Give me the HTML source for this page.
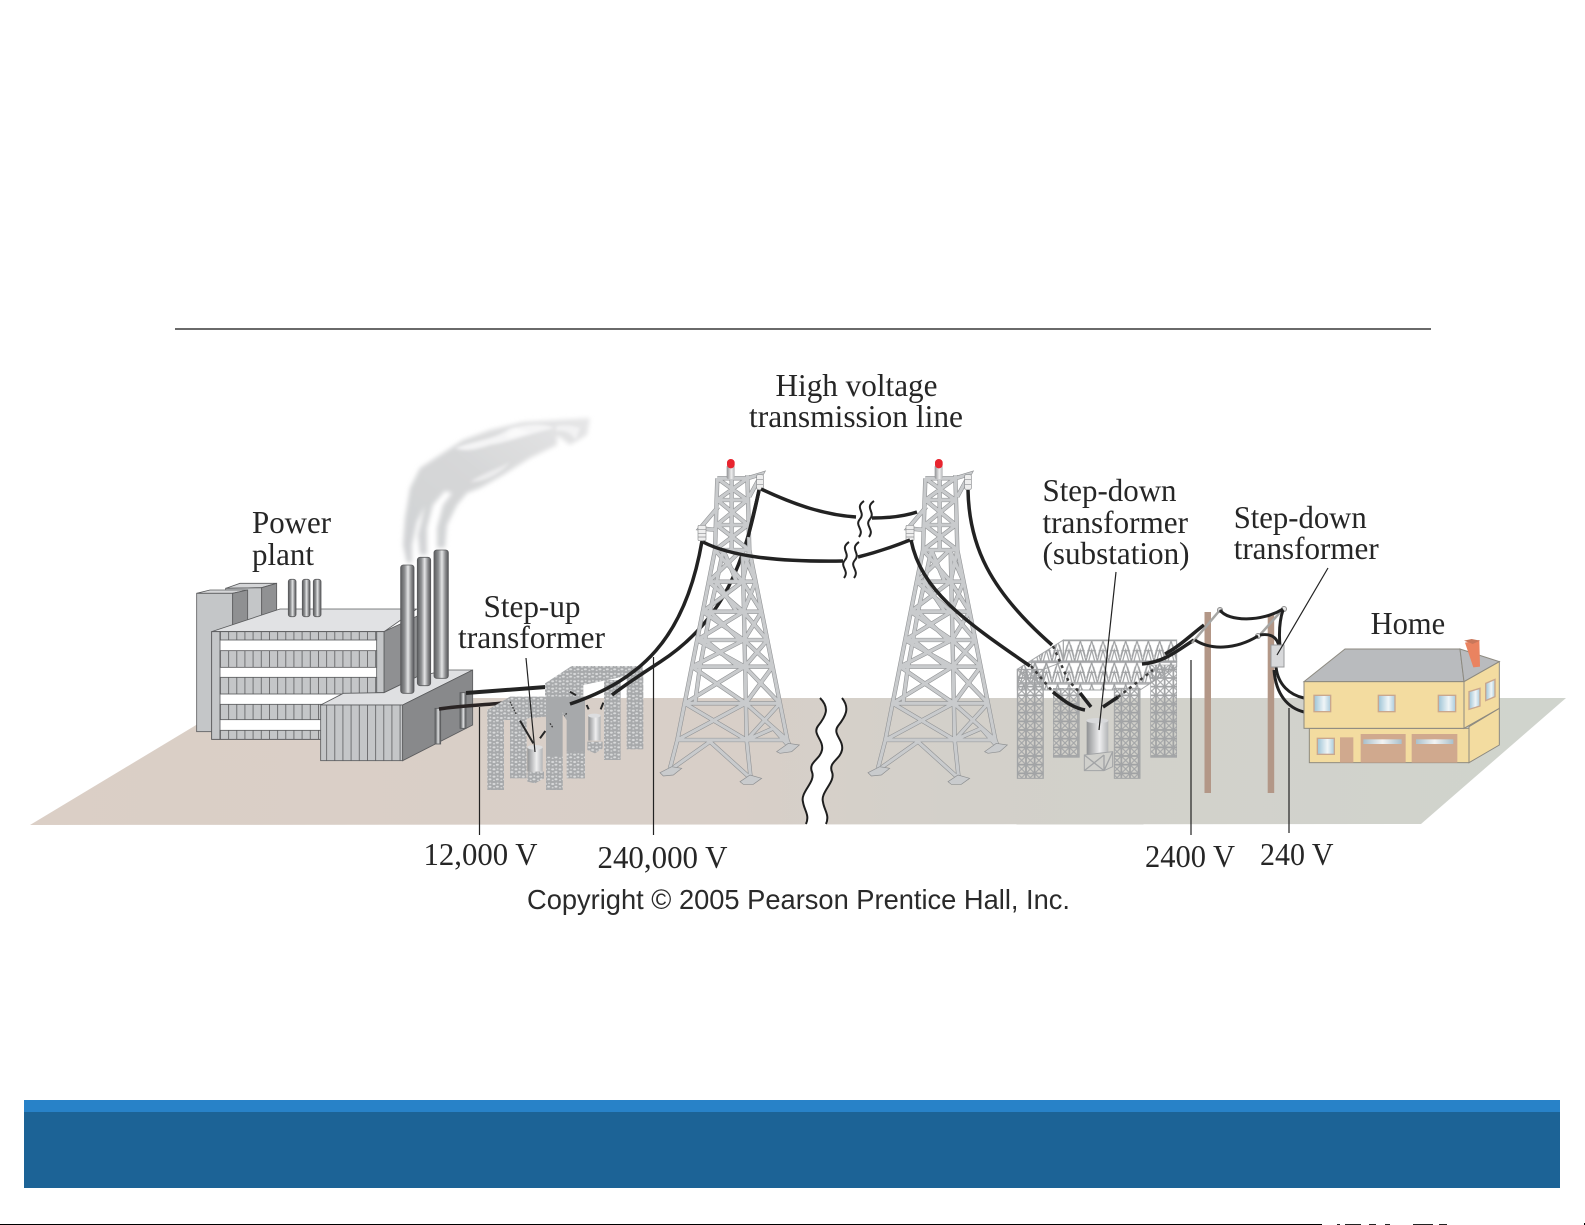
<!DOCTYPE html>
<html lang="en">
<head>
<meta charset="utf-8">
<title>Power transmission diagram</title>
<style>
html,body{margin:0;padding:0;background:#fff;width:1585px;height:1225px;overflow:hidden}
svg{display:block}
.t{font-family:"Liberation Serif",serif;font-size:32px;fill:#262626}
.c{font-family:"Liberation Sans",sans-serif;font-size:28px;fill:#2a2a2a}
</style>
</head>
<body>
<svg xmlns="http://www.w3.org/2000/svg" width="1585" height="1225" viewBox="0 0 1585 1225">
<defs>
<linearGradient id="gnd" x1="0" x2="1" y1="0" y2="0">
<stop offset="0" stop-color="#dbcfc6"/><stop offset=".45" stop-color="#d8cfc8"/><stop offset=".6" stop-color="#d3d0ca"/><stop offset="1" stop-color="#d0d4cd"/>
</linearGradient>
<linearGradient id="pipe" x1="0" x2="1" y1="0" y2="0">
<stop offset="0" stop-color="#5c5d5f"/><stop offset=".3" stop-color="#8d8f91"/><stop offset=".55" stop-color="#e4e5e6"/><stop offset=".8" stop-color="#8a8b8d"/><stop offset="1" stop-color="#56575a"/>
</linearGradient>
<linearGradient id="cyl" x1="0" x2="1" y1="0" y2="0">
<stop offset="0" stop-color="#8f9193"/><stop offset=".6" stop-color="#eeeeef"/><stop offset="1" stop-color="#b2b4b6"/>
</linearGradient>
<linearGradient id="win" x1="0" x2="1" y1="0" y2="0">
<stop offset="0" stop-color="#9cc3d6"/><stop offset=".6" stop-color="#f0f5f7"/><stop offset="1" stop-color="#a9cbdc"/>
</linearGradient>
<linearGradient id="slit" x1="0" x2="1" y1="0" y2="0">
<stop offset="0" stop-color="#a9c0cc"/><stop offset=".5" stop-color="#f2f3f3"/><stop offset="1" stop-color="#a9c0cc"/>
</linearGradient>
<linearGradient id="smk" x1="0" x2="1" y1="1" y2="0">
<stop offset="0" stop-color="#d0d2d4"/><stop offset=".5" stop-color="#d6d7d8"/><stop offset="1" stop-color="#e6e6e7"/>
</linearGradient>
<filter id="bl" x="-20%" y="-20%" width="140%" height="140%"><feGaussianBlur stdDeviation="2.5"/></filter>
<filter id="bl2" x="-20%" y="-20%" width="140%" height="140%"><feGaussianBlur stdDeviation="1.5"/></filter>
<pattern id="strip" width="24.5" height="10" patternUnits="userSpaceOnUse" x="120">
<rect width="24.5" height="10" fill="#c4c6c8"/><rect width="2.5" height="10" fill="#5f6062"/>
</pattern>
<pattern id="lat" width="26" height="26" patternUnits="userSpaceOnUse" x="52" y="148">
<rect width="26" height="26" fill="none" stroke="#9ea0a2" stroke-width="5"/>
<path d="M0 0L26 26M26 0L0 26" stroke="#a4a6a8" stroke-width="3.5"/>
</pattern>
<pattern id="truss" width="34" height="65" patternUnits="userSpaceOnUse" x="190" y="60">
<path d="M0 2H34M0 63H34M0 63L17 2L34 63M8 63L17 30L26 63M4 32H30M2 50L12 15M32 50L22 15" stroke="#9ea0a2" stroke-width="3.5" fill="none"/>
</pattern>
<pattern id="sm" width="22" height="22" patternUnits="userSpaceOnUse">
<rect width="22" height="22" fill="#a7a9ab"/>
<ellipse cx="6" cy="6" rx="4.500" ry="3" fill="#dadbdc"/><ellipse cx="16" cy="14" rx="4.500" ry="3" fill="#dadbdc"/><ellipse cx="6" cy="17" rx="3" ry="2.500" fill="#d4d5d6"/><ellipse cx="17" cy="4" rx="3" ry="2.500" fill="#d4d5d6"/>
</pattern>
<path id="twp" fill="none" d="M165,300L52,870L30,955M268,300L382,870L390,892M248,300L260,870L272,985
M150,395H285M128,485H305M111,570H322M96,650H338M74,760H360M52,870H382
M165,300L248,395M245,300L146,395M146,395L250,485M248,395L128,485M128,485L252,570M250,485L111,570M111,570L254,650M252,570L96,650M96,650L257,760M254,650L74,760M74,760L260,870M257,760L52,870
M245,300L287,395M268,300L248,395M248,395L305,485M287,395L250,485M250,485L322,570M305,485L252,570M252,570L338,650M322,570L254,650M254,650L360,760M338,650L257,760M257,760L382,870M360,760L260,870
M150,875L30,960M150,875L272,985M260,870L340,835L390,892
M172,85L165,300M262,75L268,300M172,85H262M172,150H262M170,225H264M165,300H268
M172,85L262,150M262,85L172,150M172,150L264,225M262,150L170,225M170,225L268,300M264,225L165,300
M215,85V300M175,170L120,235L170,240M262,85L305,72L268,140
M190,300L170,395L150,485L135,570L120,650L105,760M190,300L230,395M170,395L230,485M150,485L240,570M135,570L235,650"/>
<g id="tower">
<use href="#twp" stroke="#909294" stroke-width="13"/>
<use href="#twp" stroke="#c9cbcd" stroke-width="9.500"/>
<polygon points="0,968 35,950 65,955 40,975 10,978" fill="#c9cbcd" stroke="#8d8f91" stroke-width="2"/>
<polygon points="240,995 270,975 305,985 280,1003 250,1003" fill="#c9cbcd" stroke="#8d8f91" stroke-width="2"/>
<polygon points="350,905 385,880 418,885 395,905 360,910" fill="#c9cbcd" stroke="#8d8f91" stroke-width="2"/>
<rect x="200" y="45" width="24" height="42" rx="6" fill="url(#cyl)"/>
<rect x="201" y="27" width="23" height="28" rx="11" fill="#e8252f"/>
<rect x="114" y="226" width="24" height="46" rx="4" fill="#eeeeee" stroke="#8d8f91" stroke-width="2"/>
<path d="M114,238H138M114,250H138M114,261H138" stroke="#8d8f91" stroke-width="2"/>
<rect x="290" y="74" width="20" height="44" rx="4" fill="#eeeeee" stroke="#8d8f91" stroke-width="2"/>
<path d="M290,88H310M290,103H310" stroke="#8d8f91" stroke-width="2"/>
</g>
<g id="wavy" fill="none" stroke="#222" stroke-width="2">
<path d="M10,0C0,7 12,11 6,18C0,25 11,28 5,36"/>
<path d="M20,0C10,7 22,11 16,18C10,25 21,28 15,36"/>
</g>
</defs>

<rect width="1585" height="1225" fill="#fff"/>
<rect x="175" y="328" width="1256" height="2" fill="#6a6a6a"/>

<!-- ground -->
<polygon points="30,825 241,698 1566,698 1421,824" fill="url(#gnd)"/>
<path d="M820,698C830,708 826,716 818,726C812,734 824,740 822,750C820,760 808,762 812,772C816,782 800,792 803,802C804,810 810,815 806,825H826C830,815 824,810 823,802C820,792 836,782 832,772C828,762 840,760 842,750C844,740 832,734 838,726C846,716 850,708 842,698Z" fill="#fff"/>
<path d="M820,698C830,708 826,716 818,726C812,734 824,740 822,750C820,760 808,762 812,772C816,782 800,792 803,802C804,810 810,815 806,824" fill="none" stroke="#1e1e1e" stroke-width="2"/>
<path d="M842,698C850,708 846,716 838,726C832,734 844,740 842,750C840,760 828,762 832,772C836,782 820,792 823,802C824,810 830,815 826,824" fill="none" stroke="#1e1e1e" stroke-width="2"/>

<!-- smoke -->
<g filter="url(#bl)">
<polygon points="407,563 403,545 405,518 410,488 420,468 440,455 463,440 490,430 523,422 590,418 587,435 570,445 557,435 557,445 530,458 503,475 480,488 467,493 457,505 447,525 445,548 437,548 437,528 443,505 452,493 445,491 433,505 427,528 427,555 420,555 418,535 425,505 430,495 417,522 412,545 412,563" fill="url(#smk)"/>
</g>
<g filter="url(#bl2)">
<path d="M455,448C475,440 495,440 510,428C525,425 540,422 555,428C535,432 510,442 490,445C475,450 465,452 455,448Z" fill="#f4f4f5"/>
<path d="M556,426C565,425 572,425 580,428L576,440C570,432 565,430 556,431Z" fill="#f2f2f3"/>
<path d="M530,432C520,435 510,440 505,436L515,428Z" fill="#fafafa"/>
<path d="M470,482C485,472 500,468 510,462C500,475 485,482 470,482Z" fill="#ececed"/>
</g>

<!-- power plant -->
<g transform="translate(180,540) scale(.33333)" stroke="#5b5c5e" stroke-width="2.5">
<polygon points="137,145 180,130 290,130 245,143" fill="#d5d6d8"/>
<polygon points="137,145 245,143 245,240 137,260" fill="#c4c6c8"/>
<polygon points="245,143 290,130 290,210 245,230" fill="#909193"/>
<polygon points="50,160 90,150 203,150 158,160" fill="#d5d6d8"/>
<rect x="50" y="160" width="108" height="415" fill="#c4c6c8"/>
<polygon points="158,160 203,150 203,240 158,265" fill="#8f9092"/>
<polygon points="95,275 300,207 710,207 612,275" fill="#e1e2e4"/>
<polygon points="612,275 712,228 712,410 612,458" fill="#8f9092"/>
<rect x="95" y="275" width="517" height="323" fill="#fff"/>
<rect x="95" y="275" width="25" height="323" fill="#c4c6c8"/>
<rect x="590" y="275" width="22" height="183" fill="#c4c6c8"/>
<rect x="120" y="275" width="470" height="25" fill="url(#strip)"/>
<rect x="120" y="332" width="470" height="50" fill="url(#strip)"/>
<rect x="120" y="412" width="470" height="50" fill="url(#strip)"/>
<rect x="120" y="493" width="310" height="46" fill="url(#strip)"/>
<rect x="120" y="571" width="310" height="27" fill="url(#strip)"/>
<rect x="325" y="118" width="23" height="112" rx="7" fill="url(#pipe)"/>
<rect x="367" y="118" width="23" height="112" rx="7" fill="url(#pipe)"/>
<rect x="400" y="118" width="23" height="112" rx="7" fill="url(#pipe)"/>
<polygon points="422,495 490,460 612,458 712,410 800,390 878,390 668,495" fill="#dfe0e2"/>
<rect x="422" y="495" width="246" height="167" fill="url(#strip)"/>
<polygon points="668,495 878,390 878,555 668,662" fill="#88898b"/>
<rect x="762" y="30" width="43" height="385" rx="8" fill="url(#pipe)"/>
<rect x="712" y="52" width="40" height="385" rx="8" fill="url(#pipe)"/>
<rect x="662" y="75" width="40" height="385" rx="8" fill="url(#pipe)"/>
<rect x="765" y="505" width="17" height="107" fill="url(#pipe)"/>
<rect x="840" y="458" width="18" height="107" fill="url(#pipe)"/>
</g>

<!-- plant cables -->
<path d="M466,693L546,687" stroke="#242424" stroke-width="4" fill="none"/>
<path d="M439,709C465,705 490,705 512,702" stroke="#2a2424" stroke-width="3.500" fill="none"/>

<!-- step-up transformers -->
<g transform="translate(470,650) scale(.33333)">
<rect x="402" y="90" width="50" height="240" fill="url(#sm)"/>
<rect x="470" y="60" width="50" height="238" fill="url(#sm)"/>
<polygon points="225,100 305,48 518,48 518,68 340,105 340,140 225,140" fill="url(#sm)"/>
<path d="M355,195V272H392V195Z" fill="url(#cyl)"/>
<ellipse cx="373" cy="197" rx="19" ry="6" fill="#dcdddf"/>
<polygon points="352,275 398,275 398,295 375,310 352,300" fill="url(#sm)"/>
<path d="M350,165L356,178M400,158L392,178M300,125L318,136" stroke="#262626" stroke-width="6"/>
<rect x="120" y="190" width="50" height="195" fill="url(#sm)"/>
<rect x="295" y="190" width="50" height="195" fill="url(#sm)"/>
<rect x="52" y="180" width="50" height="240" fill="url(#sm)"/>
<path d="M172,292V365H218V292Z" fill="url(#cyl)"/>
<ellipse cx="195" cy="292" rx="23" ry="7" fill="#dcdddf"/>
<polygon points="172,365 222,365 222,385 195,400 172,395" fill="url(#sm)"/>
<path d="M150,212L190,280M210,265L226,243" stroke="#262626" stroke-width="6"/>
<polygon points="52,180 120,140 345,140 345,210 290,210 280,195 120,210 52,210" fill="url(#sm)"/>
<polygon points="228,140 345,140 345,210 290,210 280,195 278,180 228,180" fill="#a7a9ab"/>
<polygon points="228,180 278,180 278,420 228,420" fill="#a7a9ab"/>
<rect x="228" y="320" width="50" height="100" fill="url(#sm)"/>
<rect x="290" y="300" width="55" height="85" fill="url(#sm)"/>
<rect x="290" y="195" width="55" height="110" fill="#a7a9ab"/>
<path d="M120,155L140,195M240,220L250,235M290,190L283,198" stroke="#3a3a3a" stroke-width="4" stroke-dasharray="5 4"/>
</g>

<!-- wires left of tower -->
<path d="M570,704C640,680 685,640 702,541" fill="none" stroke="#222" stroke-width="3.500"/>
<path d="M759,490C745,560 725,620 660,662C640,675 625,685 612,695" fill="none" stroke="#222" stroke-width="3.500"/>

<!-- towers -->
<use href="#tower" transform="translate(660,450) scale(.33333)"/>
<use href="#tower" transform="translate(868,450) scale(.33333)"/>

<!-- span wires -->
<path d="M761,489C795,505 825,515 856,517" fill="none" stroke="#222" stroke-width="3.500"/>
<path d="M872,518C888,518 905,516 917,512" fill="none" stroke="#222" stroke-width="3.500"/>
<path d="M703,542C730,556 775,562 843,561" fill="none" stroke="#222" stroke-width="3.500"/>
<path d="M858,557C878,552 895,546 910,540" fill="none" stroke="#222" stroke-width="3.500"/>
<path d="M759,491L748,537" fill="none" stroke="#222" stroke-width="3.500"/>
<use href="#wavy" transform="translate(854,501)"/>
<use href="#wavy" transform="translate(839,542)"/>

<!-- substation -->
<g transform="translate(1000,620) scale(.33333)">
<rect x="160" y="205" width="78" height="207" fill="url(#lat)" stroke="#a2a4a6" stroke-width="2"/>
<rect x="452" y="135" width="78" height="277" fill="url(#lat)" stroke="#a2a4a6" stroke-width="2"/>
<polygon points="190,60 530,60 530,125 190,125" fill="url(#truss)" stroke="#a2a4a6" stroke-width="3"/>
<polygon points="52,148 190,60 190,125 130,148 130,210 52,210" fill="url(#truss)" stroke="#a2a4a6" stroke-width="3"/>
<polygon points="95,125 530,125 530,140 420,210 130,210 95,165" fill="url(#truss)" stroke="#a2a4a6" stroke-width="3"/>
<rect x="52" y="148" width="78" height="327" fill="url(#lat)" stroke="#a2a4a6" stroke-width="3"/>
<path d="M260,300V405H325V300Z" fill="url(#cyl)"/>
<ellipse cx="292" cy="302" rx="33" ry="8" fill="#d8d9db"/>
<polygon points="253,405 338,395 338,440 312,452 253,452" fill="#d0d0cc" stroke="#a2a4a6" stroke-width="3"/>
<path d="M253,405L312,452M312,405L253,452M338,395L312,452M312,405V452" stroke="#a2a4a6" stroke-width="4"/>
<rect x="343" y="205" width="77" height="270" fill="url(#lat)" stroke="#a2a4a6" stroke-width="3"/>
</g>

<!-- substation wires -->
<g fill="none" stroke="#222" stroke-width="3.500">
<path d="M968,490C969,545 989,590 1052,645"/>
<path d="M911,540C921,590 963,620 1030,666"/>
<path d="M1053,692C1065,702 1074,708 1085,710"/>
<path d="M1080,693L1091,707"/>
<path d="M1103,707L1118,697"/>
<path d="M1142,664C1165,662 1178,650 1194,640"/>
<path d="M1165,654C1180,646 1192,634 1204,625"/>
</g>
<g fill="none" stroke="#3a3a3a" stroke-width="2.500" stroke-dasharray="3 4">
<path d="M1031,666L1053,692"/>
<path d="M1053,646L1068,680L1080,693"/>
<path d="M1118,697L1153,670"/>
</g>

<!-- poles -->
<rect x="1204.500" y="612" width="6.500" height="181" fill="#b39787"/>
<rect x="1267.700" y="615" width="6.500" height="178" fill="#b39787"/>
<g fill="none" stroke="#a6a6a4" stroke-width="2.500">
<path d="M1192,643L1220,610"/>
<path d="M1258,637L1284,608"/>
</g>
<circle cx="1220" cy="610" r="2.500" fill="#d8d8d8" stroke="#8d8d8d"/>
<circle cx="1284" cy="609" r="2.500" fill="#e8e8e8" stroke="#8d8d8d"/>
<circle cx="1258" cy="636" r="2.500" fill="#e8e8e8" stroke="#8d8d8d"/>
<g fill="none" stroke="#222" stroke-width="3">
<path d="M1220,610C1228,622 1262,622 1283,609"/>
<path d="M1195,640C1210,650 1235,650 1258,636"/>
<path d="M1283,610C1279,622 1279,635 1280,646"/>
<path d="M1260,635C1272,633 1277,638 1279,646"/>
<path d="M1276,667C1278,685 1290,695 1304,698"/>
<path d="M1274,670C1276,695 1288,708 1304,712"/>
</g>
<rect x="1271" y="645" width="13" height="22" fill="#d8d9db" stroke="#9a9b9d"/>

<!-- house -->
<g transform="translate(1290,620) scale(.33333)" stroke="#8d8a80" stroke-width="3">
<polygon points="42,185 165,87 510,87 522,185" fill="#b9bbbe"/>
<polygon points="510,87 628,125 522,185" fill="#b9bbbe"/>
<polygon points="525,68 568,60 570,140 550,142" fill="#ea8360" stroke="none"/>
<polygon points="522,62 545,57 570,62 548,72" fill="#c9775a" stroke="none"/>
<rect x="58" y="325" width="479" height="103" fill="#f3dca0"/>
<polygon points="537,320 628,265 628,375 537,428" fill="#f3dca0"/>
<rect x="42" y="185" width="480" height="140" fill="#f3dca0"/>
<polygon points="522,185 628,125 628,265 522,325" fill="#f3dca0"/>
<g stroke="#c9a78e" stroke-width="4" fill="url(#win)">
<rect x="72" y="226" width="50" height="49"/>
<rect x="265" y="226" width="50" height="49"/>
<rect x="445" y="226" width="52" height="49"/>
<rect x="82" y="355" width="51" height="48"/>
<polygon points="537,215 570,205 570,258 537,268"/>
<polygon points="587,190 615,178 615,230 587,242"/>
</g>
<g stroke="none">
<rect x="150" y="352" width="40" height="76" fill="#d0a98e"/>
<rect x="212" y="342" width="135" height="86" fill="#d0a98e"/>
<rect x="365" y="342" width="137" height="86" fill="#d0a98e"/>
<rect x="220" y="358" width="115" height="14" fill="url(#slit)"/>
<rect x="378" y="358" width="112" height="14" fill="url(#slit)"/>
</g>
</g>

<!-- leaders -->
<g stroke="#222" stroke-width="1.2" fill="none">
<path d="M479.500,707V835"/>
<path d="M653.500,657V835"/>
<path d="M1191,660V835"/>
<path d="M1289,708V833"/>
<path d="M526,658L535,752"/>
<path d="M1116,572L1099,730"/>
<path d="M1328,568L1277,655"/>
</g>

<!-- labels -->
<text class="t" x="775.500" y="396" textLength="162" lengthAdjust="spacingAndGlyphs">High voltage</text>
<text class="t" x="749" y="427" textLength="214" lengthAdjust="spacingAndGlyphs">transmission line</text>
<text class="t" x="252" y="533" textLength="79" lengthAdjust="spacingAndGlyphs">Power</text>
<text class="t" x="252" y="565" textLength="62" lengthAdjust="spacingAndGlyphs">plant</text>
<text class="t" x="483.500" y="617" textLength="97" lengthAdjust="spacingAndGlyphs">Step-up</text>
<text class="t" x="458" y="648" textLength="147" lengthAdjust="spacingAndGlyphs">transformer</text>
<text class="t" x="423.500" y="865" textLength="114" lengthAdjust="spacingAndGlyphs">12,000 V</text>
<text class="t" x="597.500" y="868" textLength="130" lengthAdjust="spacingAndGlyphs">240,000 V</text>
<text class="t" x="1042.500" y="501" textLength="134" lengthAdjust="spacingAndGlyphs">Step-down</text>
<text class="t" x="1042.500" y="533" textLength="145.500" lengthAdjust="spacingAndGlyphs">transformer</text>
<text class="t" x="1042.500" y="564" textLength="147" lengthAdjust="spacingAndGlyphs">(substation)</text>
<text class="t" x="1233.700" y="528" textLength="133" lengthAdjust="spacingAndGlyphs">Step-down</text>
<text class="t" x="1233.700" y="559" textLength="145" lengthAdjust="spacingAndGlyphs">transformer</text>
<text class="t" x="1370.600" y="634" textLength="74.500" lengthAdjust="spacingAndGlyphs">Home</text>
<text class="t" x="1145" y="867" textLength="90" lengthAdjust="spacingAndGlyphs">2400 V</text>
<text class="t" x="1260" y="865" textLength="73.500" lengthAdjust="spacingAndGlyphs">240 V</text>
<text class="c" x="527" y="909" textLength="543" lengthAdjust="spacingAndGlyphs">Copyright © 2005 Pearson Prentice Hall, Inc.</text>

<!-- footer -->
<rect x="24" y="1100" width="1536" height="88" fill="#1c6396"/>
<rect x="24" y="1100" width="1536" height="12" fill="#2882c8"/>
<rect x="0" y="1224" width="1322" height="1" fill="#000"/>
<path d="M1337,1224.500h3M1345,1224.500h16M1369,1224.500h7M1385,1224.500h5M1413,1224.500h20M1439,1224.500h8" stroke="#222" stroke-width="1"/>
<rect x="1584" y="1223" width="1" height="2" fill="#000"/>
</svg>
</body>
</html>
